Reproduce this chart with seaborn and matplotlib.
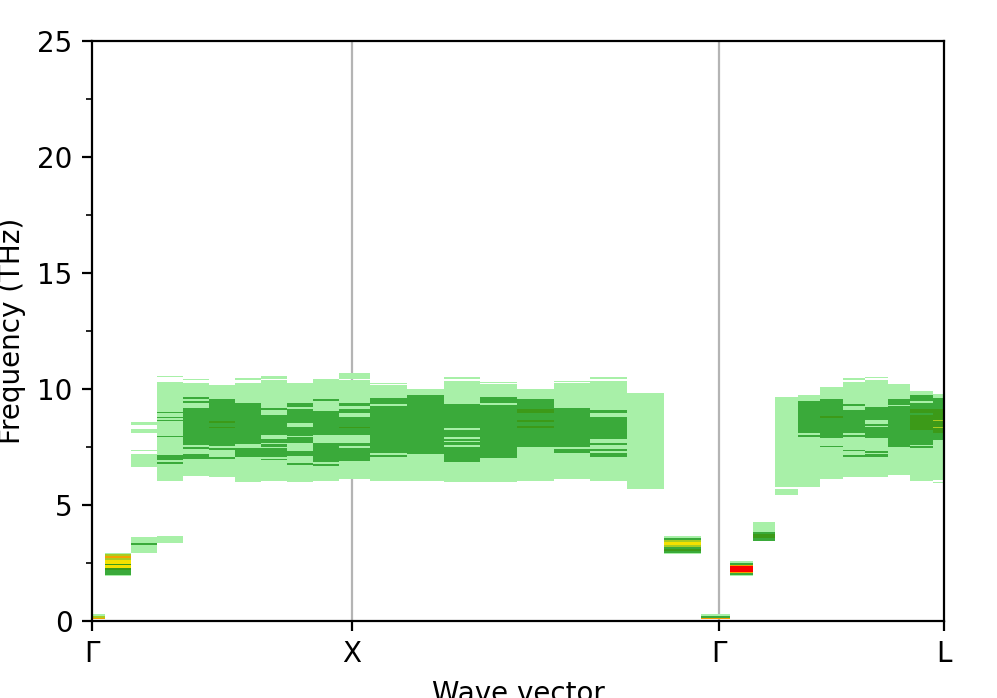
import numpy as np
import matplotlib
matplotlib.use("Agg")
import matplotlib.pyplot as plt
import seaborn as sns
from matplotlib.colors import ListedColormap, BoundaryNorm
from matplotlib.ticker import MultipleLocator

# ---------------- data ----------------
path_labels = ["Γ", "X", "Γ", "L"]
segment_lengths = [1.0, np.sqrt(2.0), np.sqrt(3.0) / 2.0]
intervals_per_segment = 10

# intensity levels: 1 weak ... 7 strongest
level_colors = ["#a8f0a8", "#3aaa3a", "#3c9a18", "#a8cc20", "#f4e000", "#f4a000", "#ff0000"]

# spectral bands per q-point: (f_low, f_high, level) in THz; later entries overwrite earlier ones
bands_gamma_x = [
    [(0.07, 0.30, 1), (0.07, 0.21, 4), (0.07, 0.15, 6)],
    [(1.94, 2.93, 1), (2.82, 2.89, 4), (2.72, 2.82, 6), (2.62, 2.72, 4), (2.46, 2.62, 5),
     (2.41, 2.46, 3), (2.30, 2.41, 5), (2.22, 2.30, 3), (2.00, 2.22, 2)],
    [(8.43, 8.58, 1), (8.12, 8.26, 1), (7.31, 7.35, 1), (6.62, 7.20, 1), (6.10, 6.14, 1),
     (2.94, 3.61, 1), (3.29, 3.38, 2)],
    [(10.50, 10.55, 1), (6.02, 10.30, 1), (8.95, 9.02, 2), (8.74, 8.79, 2), (8.63, 8.68, 2),
     (7.95, 7.99, 2), (6.94, 7.16, 2), (6.77, 6.85, 2), (3.36, 3.66, 1)],
    [(10.39, 10.45, 1), (6.25, 10.27, 1), (9.55, 9.64, 2), (9.41, 9.47, 2), (7.59, 9.19, 2),
     (7.40, 7.49, 2), (6.97, 7.20, 2)],
    [(6.19, 10.18, 1), (7.54, 9.58, 2), (8.55, 8.62, 3), (8.30, 8.38, 3), (7.38, 7.45, 2),
     (7.00, 7.05, 2)],
    [(10.37, 10.49, 1), (5.98, 10.27, 1), (7.63, 9.38, 2), (7.09, 7.45, 2)],
    [(10.45, 10.56, 1), (6.02, 10.37, 1), (9.09, 9.19, 2), (8.00, 8.86, 2), (7.69, 7.86, 2),
     (7.52, 7.63, 2), (7.06, 7.45, 2), (6.94, 7.00, 2)],
    [(5.98, 10.27, 1), (9.24, 9.41, 2), (8.52, 9.13, 2), (7.97, 8.38, 2), (7.68, 7.94, 2),
     (7.11, 7.34, 2), (6.74, 6.79, 2)],
    [(6.05, 10.41, 1), (9.50, 9.55, 2), (8.02, 9.06, 2), (6.87, 7.68, 2), (6.68, 6.77, 2)],
    [(6.14, 10.68, 1), (10.39, 10.44, 0), (9.27, 9.38, 2), (8.98, 9.13, 2), (8.00, 8.81, 2),
     (8.32, 8.38, 3), (7.54, 7.68, 2), (6.88, 7.45, 2)],
]

bands_x_gamma = [
    [(10.21, 10.27, 1), (6.05, 10.16, 1), (9.34, 9.62, 2), (7.26, 9.28, 2), (7.09, 7.16, 2)],
    [(6.05, 9.99, 1), (7.18, 9.74, 2)],
    [(10.45, 10.53, 1), (5.99, 10.36, 1), (6.87, 9.35, 2), (8.23, 8.30, 1), (7.86, 7.94, 1),
     (7.72, 7.77, 1), (7.48, 7.57, 1)],
    [(10.24, 10.31, 1), (5.99, 10.21, 1), (9.41, 9.64, 2), (7.04, 9.32, 2)],
    [(6.05, 9.99, 1), (7.48, 9.55, 2), (8.98, 9.15, 3), (8.58, 8.66, 3), (8.32, 8.40, 3)],
    [(10.30, 10.36, 1), (6.11, 10.24, 1), (7.48, 9.19, 2), (7.26, 7.40, 2)],
    [(10.45, 10.53, 1), (6.05, 10.36, 1), (8.95, 9.09, 2), (7.83, 8.81, 2), (7.60, 7.68, 2),
     (7.34, 7.40, 2), (7.08, 7.26, 2)],
    [(5.67, 9.84, 1)],
    [(2.89, 3.66, 1), (3.49, 3.58, 2), (3.41, 3.49, 4), (3.26, 3.41, 5), (3.20, 3.26, 4),
     (3.12, 3.20, 2), (3.03, 3.12, 3), (2.94, 3.03, 2)],
    [(0.07, 0.30, 1), (0.07, 0.22, 2), (0.07, 0.14, 6)],
]

bands_gamma_l = [
    [(1.94, 2.59, 1), (2.43, 2.50, 2), (2.37, 2.43, 6), (2.11, 2.37, 7), (2.06, 2.11, 6),
     (2.00, 2.06, 2)],
    [(3.46, 4.27, 1), (3.75, 3.84, 2), (3.56, 3.75, 3), (3.46, 3.56, 2)],
    [(5.79, 9.67, 1), (5.42, 5.70, 1)],
    [(5.79, 9.76, 1), (8.09, 9.50, 2), (7.92, 8.03, 2)],
    [(6.11, 10.07, 1), (7.87, 9.55, 2), (8.77, 8.85, 3), (7.50, 7.54, 2)],
    [(10.40, 10.46, 1), (6.19, 10.30, 1), (9.28, 9.35, 2), (8.09, 9.09, 2), (7.92, 8.03, 2),
     (7.31, 7.37, 2), (7.08, 7.17, 2)],
    [(10.47, 10.53, 1), (6.19, 10.39, 1), (8.66, 9.21, 2), (8.41, 8.49, 2), (7.89, 8.35, 2),
     (7.05, 7.31, 2), (7.18, 7.22, 1)],
    [(6.31, 10.22, 1), (7.49, 9.55, 2), (9.26, 9.32, 1)],
    [(6.05, 9.93, 1), (7.45, 9.73, 2), (9.39, 9.50, 1), (8.98, 9.15, 3), (8.23, 8.87, 3),
     (7.54, 7.60, 1)],
    [(5.93, 5.97, 1), (6.08, 9.78, 1), (7.80, 9.61, 2), (8.09, 9.12, 3), (8.63, 8.66, 4),
     (8.32, 8.35, 4)],
]

# ---------------- build grid ----------------
q_points = [0.0]
boundaries = [0.0]
cum = 0.0
for seg_len in segment_lengths:
    for k in range(1, intervals_per_segment + 1):
        q_points.append(cum + seg_len * k / intervals_per_segment)
    cum += seg_len
    boundaries.append(cum)
q_points = np.array(q_points)
mids = 0.5 * (q_points[:-1] + q_points[1:])
q_edges = np.concatenate([[q_points[0] - (q_points[1] - q_points[0]) / 2], mids,
                          [q_points[-1] + (q_points[-1] - q_points[-2]) / 2]])

df = 0.01
f_edges = np.arange(0.0, 12.0 + df / 2, df)
f_centers = 0.5 * (f_edges[:-1] + f_edges[1:])

all_bands = bands_gamma_x + bands_x_gamma + bands_gamma_l
Z = np.zeros((len(f_centers), len(q_points)))
for j, col in enumerate(all_bands):
    for lo, hi, lev in col:
        m = (f_centers >= lo) & (f_centers < hi)
        Z[m, j] = lev
Zm = np.ma.masked_where(Z == 0, Z)

# ---------------- plot ----------------
sns.set_theme(style="ticks", rc={
    "font.family": ["DejaVu Sans"], "font.size": 10,
    "axes.labelsize": 10, "xtick.labelsize": 10, "ytick.labelsize": 10,
    "axes.edgecolor": "black", "axes.linewidth": 0.8,
    "xtick.color": "black", "ytick.color": "black", "axes.labelcolor": "black",
    "text.color": "black",
    "xtick.major.size": 3.5, "ytick.major.size": 3.5, "ytick.minor.size": 2.0,
    "xtick.major.width": 0.8, "ytick.major.width": 0.8, "ytick.minor.width": 0.6,
    "xtick.direction": "out", "ytick.direction": "out",
    "axes.grid": False,
})
plt.rcParams["font.family"] = ["DejaVu Sans"]

fig = plt.figure(figsize=(4.985, 3.49), dpi=200)
ax = fig.add_axes([0.0923, 0.1103, 0.8545, 0.8310])

cmap = ListedColormap(level_colors)
norm = BoundaryNorm(np.arange(0.5, len(level_colors) + 1.0, 1.0), cmap.N)
ax.pcolormesh(q_edges, f_edges, Zm, cmap=cmap, norm=norm, shading="flat",
              antialiased=False, linewidth=0, zorder=2)

for b in boundaries[1:-1]:
    ax.axvline(b, color="#b4b4b4", lw=0.8, zorder=1)

ax.set_xlim(0, boundaries[-1])
ax.set_ylim(0, 25)
ax.set_xticks(boundaries)
ax.set_xticklabels(path_labels)
ax.yaxis.set_major_locator(MultipleLocator(5))
ax.yaxis.set_minor_locator(MultipleLocator(2.5))
ax.set_ylabel("Frequency (THz)")
ax.set_xlabel("Wave vector")
for s in ax.spines.values():
    s.set_visible(True)
    s.set_color("black")

fig.savefig("out.png", dpi=200)
